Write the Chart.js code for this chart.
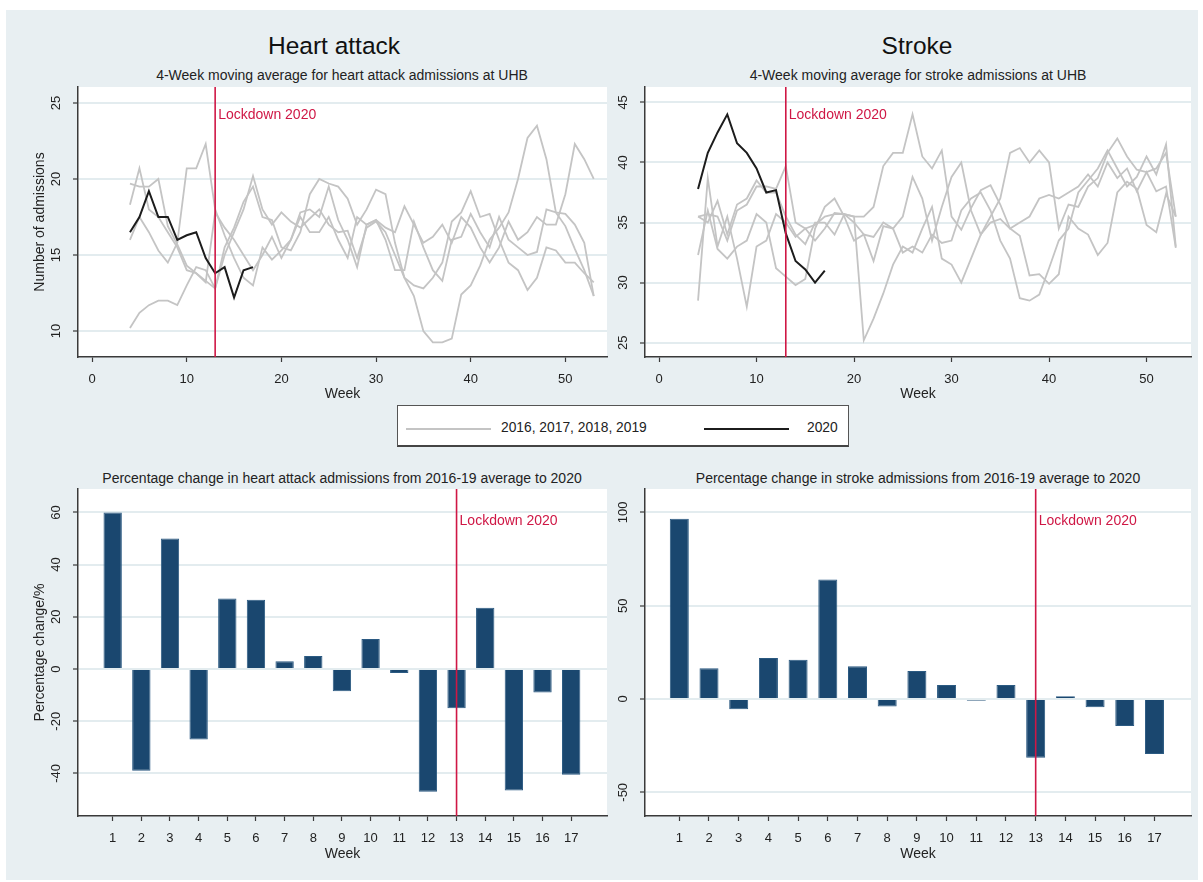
<!DOCTYPE html>
<html>
<head>
<meta charset="utf-8">
<title>Heart attack and stroke admissions at UHB</title>
<script src="https://cdn.jsdelivr.net/npm/chart.js@4.4.0/dist/chart.umd.min.js"></script>
<style>
    body { margin: 0; background: #ffffff; font-family: "Liberation Sans", Arial, sans-serif; }
    #figure { position: relative; width: 1203px; height: 882px; overflow: hidden; }
    #bg { position: absolute; left: 6px; top: 10px; width: 1192px; height: 870px; background: #e8eff2; }
    canvas { position: absolute; }
    .title { position: absolute; white-space: nowrap; transform: translate(-50%, -50%); color: #111; }
    .big { font-size: 24.5px; }
    .sub { font-size: 14px; color: #222; }
    #legend { position: absolute; left: 397px; top: 405px; width: 452px; height: 42px; box-sizing: border-box;
              background: #fff; border: 1px solid #555; border-bottom: 2px solid #444; }
    #legend .swatch { position: absolute; top: 22px; width: 85px; height: 0; }
    #legend .label { position: absolute; top: 14px; font-size: 13.8px; color: #222; }
</style>
</head>
<body>
<div id="figure">
    <div id="bg"></div>

    <div class="title big" style="left:334px; top:46px;">Heart attack</div>
    <div class="title big" style="left:917px; top:46px;">Stroke</div>
    <div class="title sub" style="left:342px; top:75px;">4-Week moving average for heart attack admissions at UHB</div>
    <div class="title sub" style="left:918px; top:75px;">4-Week moving average for stroke admissions at UHB</div>
    <div class="title sub" style="left:342px; top:478px;">Percentage change in heart attack admissions from 2016-19 average to 2020</div>
    <div class="title sub" style="left:918px; top:478px;">Percentage change in stroke admissions from 2016-19 average to 2020</div>

    <canvas id="heartLine" width="612" height="320" style="left:0px; top:85px;"></canvas>
    <canvas id="strokeLine" width="591" height="320" style="left:612px; top:85px;"></canvas>
    <canvas id="heartBar" width="612" height="378" style="left:0px; top:487px;"></canvas>
    <canvas id="strokeBar" width="591" height="378" style="left:612px; top:487px;"></canvas>

    <div id="legend">
        <div class="swatch" style="left:8px; border-top:2px solid #c4c4c4;"></div>
        <div class="label" style="left:103px;">2016, 2017, 2018, 2019</div>
        <div class="swatch" style="left:306px; border-top:2px solid #1c1c1c;"></div>
        <div class="label" style="left:409px;">2020</div>
    </div>
</div>

<script>
// --- DONNÉES ---
// semaines des moyennes mobiles (2016-2019) et de 2020
const weeks = [4, 5, 6, 7, 8, 9, 10, 11, 12, 13, 14, 15, 16, 17, 18, 19, 20, 21, 22, 23,
               24, 25, 26, 27, 28, 29, 30, 31, 32, 33, 34, 35, 36, 37, 38, 39, 40, 41, 42, 43,
               44, 45, 46, 47, 48, 49, 50, 51, 52, 53];
const weeks2020 = [4, 5, 6, 7, 8, 9, 10, 11, 12, 13, 14, 15, 16, 17];

// heart attack, 4-week moving average (weeks 4..53)
const heart2016 = [10.2, 11.2, 11.7, 12.0, 12.0, 11.7, 13.0, 14.2, 14.0, 12.8,
                   15.0, 16.5, 18.0, 20.2, 18.0, 17.0, 17.8, 17.2, 16.8, 17.4,
                   18.0, 17.0, 16.5, 16.6, 14.8, 16.8, 17.2, 16.5, 15.0, 13.5,
                   12.3, 10.0, 9.25, 9.25, 9.5, 12.4, 13.0, 14.3, 16.0, 16.8,
                   17.8, 20.0, 22.7, 23.5, 21.3, 17.8, 16.9, 15.4, 14.0, 12.3];
const heart2017 = [16.0, 17.5, 16.5, 15.3, 14.5, 15.8, 20.7, 20.7, 22.3, 18.0,
                   16.3, 14.8, 13.5, 13.0, 15.5, 14.7, 15.3, 16.0, 17.8, 18.0,
                   17.5, 19.5, 17.3, 16.0, 14.2, 17.0, 17.3, 16.0, 14.0, 14.0,
                   17.2, 15.5, 14.0, 13.3, 16.0, 16.2, 17.7, 16.5, 15.5, 17.5,
                   16.0, 15.5, 15.0, 15.2, 18.0, 17.8, 17.7, 17.0, 15.8, 12.3];
const heart2018 = [19.7, 19.5, 19.5, 20.0, 16.9, 15.7, 14.3, 13.8, 13.3, 12.8,
                   15.5, 16.8, 18.5, 19.5, 17.5, 17.3, 15.5, 15.3, 16.5, 19.0,
                   20.0, 19.7, 19.5, 18.7, 17.0, 18.0, 19.3, 19.0, 15.8, 13.5,
                   13.0, 12.8, 13.5, 14.5, 17.2, 17.8, 19.2, 17.5, 17.7, 16.0,
                   14.5, 14.0, 12.7, 13.5, 15.5, 15.3, 14.5, 14.5, 13.8, 13.2];
const heart2019 = [18.3, 20.7, 18.0, 17.5, 16.5, 15.5, 14.0, 13.8, 13.2, 17.8,
                   16.8, 16.0, 15.0, 14.0, 15.0, 16.2, 14.8, 16.0, 17.5, 16.5,
                   16.5, 17.5, 16.0, 14.8, 17.5, 17.0, 17.3, 16.8, 16.5, 18.2,
                   17.0, 15.8, 16.2, 17.0, 15.8, 17.5, 16.8, 15.5, 14.5, 15.5,
                   17.2, 16.0, 16.5, 17.5, 17.0, 17.0, 19.0, 22.3, 21.3, 20.0];
const heart2020 = [16.5, 17.5, 19.2, 17.5, 17.5, 16.0, 16.3, 16.5, 14.8, 13.8, 14.2, 12.2, 14.0, 14.2];

// stroke, 4-week moving average (weeks 4..53)
const stroke2016 = [35.5, 35.7, 35.5, 33.5, 36.0, 36.5, 38.0, 38.0, 37.8, 39.7,
                    35.0, 34.5, 34.8, 35.5, 35.7, 35.7, 35.5, 35.5, 36.3, 39.7,
                    40.8, 40.8, 44.0, 40.5, 39.5, 41.0, 35.5, 34.4, 36.2, 37.7,
                    38.1, 36.5, 34.5, 33.9, 30.6, 30.7, 29.9, 30.7, 35.5, 34.5,
                    34.0, 32.3, 33.3, 37.5, 38.4, 37.8, 34.8, 34.2, 37.4, 35.5];
const stroke2017 = [32.3, 36.0, 32.8, 32.0, 33.0, 33.5, 35.7, 35.0, 31.2, 30.5,
                    29.8, 30.3, 34.5, 36.3, 37.0, 35.5, 33.5, 34.0, 33.8, 35.0,
                    34.5, 35.5, 38.8, 37.0, 33.5, 36.3, 38.8, 40.0, 36.0, 34.0,
                    35.5, 37.0, 40.8, 41.2, 40.0, 41.0, 40.0, 34.5, 36.5, 36.3,
                    38.0, 38.7, 40.8, 42.0, 40.5, 39.4, 39.2, 39.5, 40.8, 35.5];
const stroke2018 = [28.5, 38.7, 33.0, 35.5, 32.0, 28.0, 33.0, 33.5, 35.7, 35.0,
                    33.8, 34.5, 33.5, 34.5, 35.8, 35.7, 35.5, 25.2, 27.0, 29.1,
                    31.5, 33.0, 32.5, 34.5, 36.3, 32.0, 31.5, 30.0, 32.0, 34.0,
                    35.0, 35.3, 34.5, 35.0, 35.5, 37.0, 37.3, 37.0, 37.5, 38.0,
                    39.0, 38.0, 40.0, 38.7, 39.5, 37.6, 39.2, 37.6, 38.0, 32.9];
const stroke2019 = [35.5, 35.0, 36.8, 34.0, 36.5, 37.0, 38.5, 37.5, 37.5, 35.5,
                    34.0, 33.2, 35.0, 35.0, 34.0, 35.7, 35.0, 34.0, 31.8, 34.7,
                    34.5, 32.5, 33.0, 32.5, 34.0, 33.3, 33.5, 36.0, 37.0, 37.5,
                    36.0, 33.5, 32.0, 28.7, 28.5, 29.0, 31.2, 33.5, 34.5, 37.5,
                    38.5, 39.5, 41.0, 39.5, 38.0, 38.8, 40.5, 39.0, 41.5, 33.0];
const stroke2020 = [37.8, 40.8, 42.5, 44.0, 41.6, 40.8, 39.5, 37.5, 37.7, 34.1, 31.8, 31.1, 30.0, 31.0];

// percentage change 2016-19 average -> 2020, weeks 1..17
const barWeeks = [1, 2, 3, 4, 5, 6, 7, 8, 9, 10, 11, 12, 13, 14, 15, 16, 17];
const heartPct = [60, -39, 50, -27, 27, 26.5, 3, 5, -8.5, 11.5, -1.5, -47, -15, 23.5, -46.5, -9, -40.5];
const strokePct = [96.5, 16.5, -5.5, 22, 21, 64, 17.5, -4, 15, 7.5, -1, 7.5, -31.5, 1.5, -4.5, -14.5, -29.5];

const lockdownWeek = 13;

// tick labels
const weekTicks = [0, 10, 20, 30, 40, 50];
const heartTicks = [10, 15, 20, 25];
const strokeTicks = [25, 30, 35, 40, 45];
const heartPctTicks = [-40, -20, 0, 20, 40, 60];
const strokePctTicks = [-50, 0, 50, 100];

// --- STYLES ---
const FONT = '"Liberation Sans", Arial, sans-serif';
const GREY = '#c4c4c4';
const BLACK = '#1c1c1c';
const RED = '#cf1745';
const NAVY = '#1a476f';
const AXIS = '#3a3a3a';
const GRID = '#e3ecef';
const TEXT = '#222222';

const toPoints = (xs, ys) => xs.map((x, i) => ({ x: x, y: ys[i] }));

/**
 * Fond blanc de la zone de tracé (plotregion Stata).
 */
const plotAreaPlugin = {
    id: 'plotArea',
    beforeDraw(chart) {
        const { ctx, chartArea } = chart;
        ctx.save();
        ctx.fillStyle = '#ffffff';
        ctx.fillRect(chartArea.left, chartArea.top, chartArea.right - chartArea.left, chartArea.bottom - chartArea.top);
        ctx.restore();
    }
};

/**
 * Dessine les étiquettes verticales de l'axe Y, le titre Y et le texte "Lockdown 2020".
 */
const axisTextPlugin = {
    id: 'axisText',
    afterDraw(chart, args, opts) {
        const { ctx, chartArea, scales } = chart;
        ctx.save();
        ctx.fillStyle = TEXT;
        ctx.font = '13px ' + FONT;
        ctx.textAlign = 'center';
        ctx.textBaseline = 'middle';
        scales.y.ticks.forEach(t => {
            ctx.save();
            ctx.translate(chartArea.left - 22, scales.y.getPixelForValue(t.value));
            ctx.rotate(-Math.PI / 2);
            ctx.fillText(String(t.value), 0, 0);
            ctx.restore();
        });
        if (opts.yTitle) {
            ctx.save();
            ctx.font = '14px ' + FONT;
            ctx.translate(chartArea.left - 38, (chartArea.top + chartArea.bottom) / 2);
            ctx.rotate(-Math.PI / 2);
            ctx.fillText(opts.yTitle, 0, 0);
            ctx.restore();
        }
        // lockdown label
        ctx.fillStyle = RED;
        ctx.textAlign = 'left';
        ctx.font = '14px ' + FONT;
        const lx = scales.x.getPixelForValue(lockdownWeek);
        ctx.fillText('Lockdown 2020', lx + 3, chartArea.top + opts.labelOffset);
        ctx.restore();
    }
};

const buildScales = (cfg) => ({
    x: {
        type: 'linear',
        min: cfg.xMin,
        max: cfg.xMax,
        offset: false,
        bounds: 'data',
        afterBuildTicks: (s) => { s.ticks = cfg.xTicks.map(v => ({ value: v })); },
        afterFit: (s) => { s.height = cfg.xHeight; },
        grid: { display: true, drawOnChartArea: false, drawTicks: true, tickLength: 5, tickColor: AXIS, tickWidth: 1.2, offset: false },
        border: { color: AXIS, width: 1.5 },
        ticks: { color: TEXT, font: { family: FONT, size: 13 }, padding: 10, maxRotation: 0, autoSkip: false },
        title: { display: true, text: 'Week', color: TEXT, font: { family: FONT, size: 14 }, padding: { top: 0, bottom: 2 } }
    },
    y: {
        type: 'linear',
        min: cfg.yMin,
        max: cfg.yMax,
        bounds: 'data',
        afterBuildTicks: (s) => { s.ticks = cfg.yTicks.map(v => ({ value: v })); },
        afterFit: (s) => { s.width = cfg.yWidth; },
        grid: { color: GRID, lineWidth: 2, drawTicks: true, tickLength: 5, tickColor: AXIS, tickWidth: 1.2 },
        border: { color: AXIS, width: 1.5 },
        ticks: { display: false }
    }
});

const baseOptions = (cfg) => ({
    responsive: false,
    animation: false,
    events: [],
    layout: { padding: { left: 0, top: 2, right: cfg.padRight, bottom: 0 } },
    plugins: {
        legend: { display: false },
        tooltip: { enabled: false },
        axisText: { yTitle: cfg.yTitle, labelOffset: cfg.labelOffset }
    },
    scales: buildScales(cfg)
});

const lockdownDataset = (cfg) => ({
    type: 'line',
    data: [{ x: lockdownWeek, y: cfg.yMin }, { x: lockdownWeek, y: cfg.yMax }],
    borderColor: RED,
    borderWidth: 1.6,
    pointRadius: 0,
    order: 0
});

const greyDataset = (values) => ({
    data: toPoints(weeks, values),
    borderColor: GREY,
    borderWidth: 1.8,
    pointRadius: 0,
    tension: 0,
    order: 3
});

const createLineChart = (id, greySeries, series2020, cfg) => {
    new Chart(document.getElementById(id), {
        type: 'line',
        data: {
            datasets: [
                ...greySeries.map(greyDataset),
                { data: toPoints(weeks2020, series2020), borderColor: BLACK, borderWidth: 2, pointRadius: 0, tension: 0, order: 2 },
                lockdownDataset(cfg)
            ]
        },
        options: baseOptions(cfg),
        plugins: [plotAreaPlugin, axisTextPlugin]
    });
};

const createBarChart = (id, values, cfg) => {
    new Chart(document.getElementById(id), {
        type: 'bar',
        data: {
            datasets: [
                {
                    type: 'bar',
                    data: toPoints(barWeeks, values),
                    backgroundColor: NAVY,
                    borderColor: '#2b5a82',
                    borderWidth: 1,
                    barPercentage: 0.8,
                    categoryPercentage: 0.8,
                    order: 2
                },
                lockdownDataset(cfg)
            ]
        },
        options: baseOptions(cfg),
        plugins: [plotAreaPlugin, axisTextPlugin]
    });
};

// --- GRAPHIQUES ---
createLineChart('heartLine', [heart2016, heart2017, heart2018, heart2019], heart2020, {
    xMin: -1.49, xMax: 54.4, xTicks: weekTicks, xHeight: 48,
    yMin: 8.29, yMax: 26.05, yTicks: heartTicks, yWidth: 78,
    padRight: 5, yTitle: 'Number of admissions', labelOffset: 28
});

createLineChart('strokeLine', [stroke2016, stroke2017, stroke2018, stroke2019], stroke2020, {
    xMin: -1.44, xMax: 54.56, xTicks: weekTicks, xHeight: 48,
    yMin: 23.81, yMax: 46.28, yTicks: strokeTicks, yWidth: 33,
    padRight: 12, yTitle: null, labelOffset: 28
});

createBarChart('heartBar', heartPct, {
    xMin: -0.21, xMax: 18.25, xTicks: barWeeks, xHeight: 49,
    yMin: -56.3, yMax: 68.97, yTicks: heartPctTicks, yWidth: 78,
    padRight: 5, yTitle: 'Percentage change/%', labelOffset: 32
});

createBarChart('strokeBar', strokePct, {
    xMin: -0.155, xMax: 18.23, xTicks: barWeeks, xHeight: 49,
    yMin: -62.7, yMax: 112.5, yTicks: strokePctTicks, yWidth: 33,
    padRight: 12, yTitle: null, labelOffset: 32
});
</script>
</body>
</html>
